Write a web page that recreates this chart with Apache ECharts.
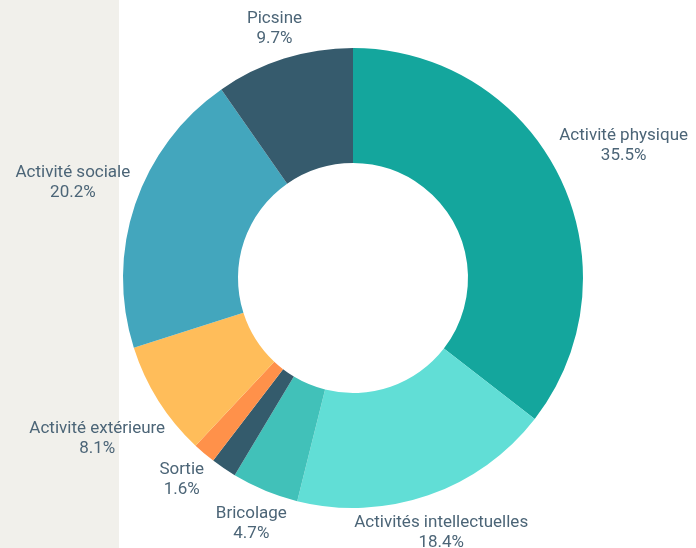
<!DOCTYPE html>
<html>
<head>
<meta charset="utf-8">
<script src="https://cdn.jsdelivr.net/npm/echarts@6/dist/echarts.min.js"></script>
<style>
  html, body { margin: 0; padding: 0; background: #fff; }
  #chart { width: 696px; height: 548px; }
</style>
</head>
<body>
<div id="chart"></div>
<script>
// données (sens horaire depuis le haut)
var categories = ['Activité physique', 'Activités intellectuelles', 'Bricolage', 'Autre', 'Sortie', 'Activité extérieure', 'Activité sociale', 'Picsine']
var values = [35.5, 18.4, 4.7, 1.8, 1.6, 8.1, 20.2, 9.7]
var colors = ['#14a69d', '#61ded6', '#41c1b9', '#345b6c', '#ff914a', '#ffbd5a', '#43a6bd', '#365b6d']
var hiddenLabels = ['Autre']

var CX = 353, CY = 278, R_IN = 115, R_OUT = 230
var LABEL_GAP = 235

var total = values.reduce(function (a, b) { return a + b }, 0)

// angle milieu de chaque part
function midAngle(i) {
  var cum = 0
  for (var k = 0; k < i; k++) cum += values[k]
  return (90 - (cum + values[i] / 2) / total * 360) * Math.PI / 180
}

// place l'étiquette le long du rayon, bord le plus proche à LABEL_GAP du centre
function placeLabel(params) {
  var a = midAngle(params.dataIndex)
  var dx = Math.cos(a), dy = -Math.sin(a)
  var hw = params.labelRect.width / 2, hh = params.labelRect.height / 2
  function nearest(t) {
    var cx = t * dx, cy = t * dy
    var nx = Math.max(Math.abs(cx) - hw, 0)
    var ny = Math.max(Math.abs(cy) - hh, 0)
    return Math.sqrt(nx * nx + ny * ny)
  }
  var lo = 0, hi = 800
  for (var n = 0; n < 40; n++) {
    var mid = (lo + hi) / 2
    if (nearest(mid) < LABEL_GAP) lo = mid; else hi = mid
  }
  return {
    x: CX + lo * dx,
    y: CY + lo * dy,
    align: 'center',
    verticalAlign: 'middle'
  }
}

var chart = echarts.init(document.getElementById('chart'))
chart.setOption({
  animation: false,
  graphic: [{
    type: 'rect',
    left: 0,
    top: 0,
    z: -10,
    shape: { width: 119, height: 548 },
    style: { fill: '#f1f0eb' }
  }],
  series: [{
    type: 'pie',
    center: [CX, CY],
    radius: [R_IN, R_OUT],
    startAngle: 90,
    clockwise: true,
    avoidLabelOverlap: false,
    label: {
      show: true,
      position: 'outside',
      color: '#4c6577',
      fontFamily: 'Roboto',
      fontSize: 17,
      lineHeight: 20,
      formatter: function (p) {
        return p.name + '\n' + p.value.toFixed(1) + '%'
      }
    },
    labelLine: { show: false },
    labelLayout: placeLabel,
    itemStyle: { borderWidth: 0 },
    emphasis: { disabled: true },
    data: categories.map(function (c, i) {
      return {
        name: c,
        value: values[i],
        itemStyle: { color: colors[i] },
        label: { show: hiddenLabels.indexOf(c) < 0 }
      }
    })
  }]
})
</script>
</body>
</html>
